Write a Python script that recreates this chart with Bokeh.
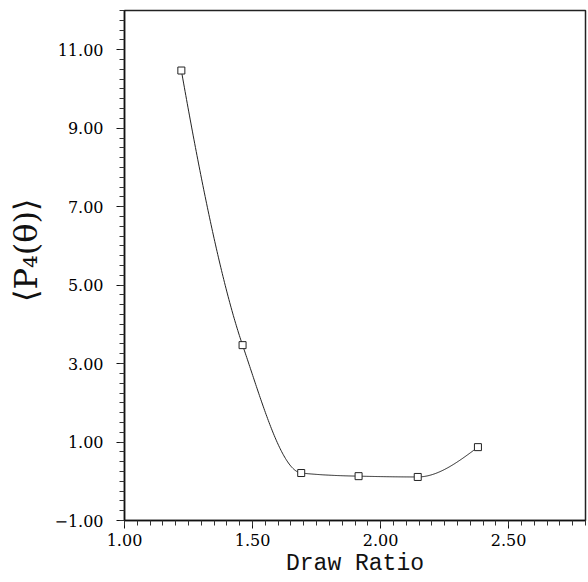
import numpy as np
from bokeh.plotting import figure
from bokeh.models import Range1d, FixedTicker
from bokeh.embed import file_html
from bokeh.resources import INLINE

# Data
draw_ratio = [1.222, 1.461, 1.690, 1.914, 2.145, 2.380]
p4 = [10.47, 3.47, 0.21, 0.13, 0.11, 0.87]

x_major = [1.0, 1.5, 2.0, 2.5]
x_labels = ["1.00", "1.50", "2.00", "2.50"]
y_major = [-1.0, 1.0, 3.0, 5.0, 7.0, 9.0, 11.0]
y_labels = ["\u22121.00", "1.00", "3.00", "5.00", "7.00", "9.00", "11.00"]


def pchip_curve(x, y, n=400):
    x = np.asarray(x, float)
    y = np.asarray(y, float)
    m = len(x)
    h = np.diff(x)
    d = np.diff(y) / h
    s = np.zeros(m)
    for i in range(1, m - 1):
        if d[i - 1] * d[i] > 0:
            w1 = 2 * h[i] + h[i - 1]
            w2 = h[i] + 2 * h[i - 1]
            s[i] = (w1 + w2) / (w1 / d[i - 1] + w2 / d[i])
        else:
            s[i] = 0.0

    def end_slope(h0, h1, d0, d1):
        v = ((2 * h0 + h1) * d0 - h0 * d1) / (h0 + h1)
        if np.sign(v) != np.sign(d0):
            v = 0.0
        elif np.sign(d0) != np.sign(d1) and abs(v) > abs(3 * d0):
            v = 3 * d0
        return v

    s[0] = end_slope(h[0], h[1], d[0], d[1])
    s[-1] = end_slope(h[-1], h[-2], d[-1], d[-2])
    xs = np.linspace(x[0], x[-1], n)
    ys = np.empty_like(xs)
    for k, xv in enumerate(xs):
        i = int(np.clip(np.searchsorted(x, xv) - 1, 0, m - 2))
        t = (xv - x[i]) / h[i]
        h00 = 2 * t ** 3 - 3 * t ** 2 + 1
        h10 = t ** 3 - 2 * t ** 2 + t
        h01 = -2 * t ** 3 + 3 * t ** 2
        h11 = t ** 3 - t ** 2
        ys[k] = h00 * y[i] + h10 * h[i] * s[i] + h01 * y[i + 1] + h11 * h[i] * s[i + 1]
    return xs, ys


xs, ys = pchip_curve(draw_ratio, p4)

p = figure(frame_width=461, frame_height=510,
           x_range=Range1d(1.0, 2.8), y_range=Range1d(-1.0, 12.0),
           output_backend="svg", toolbar_location=None,
           min_border_left=124, min_border_right=3,
           min_border_top=10, min_border_bottom=60)

p.background_fill_color = "white"
p.border_fill_color = "white"
p.outline_line_color = "#222222"
p.outline_line_width = 1.5
p.xgrid.visible = False
p.ygrid.visible = False

p.line(xs, ys, line_color="#222222", line_width=1)
p.scatter(draw_ratio, p4, marker="square", size=7, fill_color="white",
          line_color="#222222", line_width=1)

p.xaxis.ticker = FixedTicker(ticks=x_major,
                             minor_ticks=list(np.round(np.arange(1.0, 2.8001, 0.05), 3)))
p.yaxis.ticker = FixedTicker(ticks=y_major,
                             minor_ticks=list(np.round(np.arange(-1.0, 12.001, 0.25), 3)))
p.xaxis.major_label_overrides = dict(zip(x_major, x_labels))
p.yaxis.major_label_overrides = dict(zip(y_major, y_labels))

for ax in (p.xaxis[0], p.yaxis[0]):
    ax.axis_line_color = "#111111"
    ax.axis_line_width = 1.5
    ax.major_tick_line_color = "#111111"
    ax.minor_tick_line_color = "#333333"
    ax.major_tick_in = 0
    ax.minor_tick_in = 0
    ax.major_tick_out = 8
    ax.minor_tick_out = 5
    ax.major_label_text_font = "DejaVu Serif"
    ax.major_label_text_font_size = "16px"
    ax.major_label_text_color = "#000000"

p.xaxis.major_label_standoff = 5
p.yaxis.major_label_standoff = 13

p.xaxis.axis_label = "Draw Ratio"
p.xaxis.axis_label_text_font = "Liberation Mono"
p.xaxis.axis_label_text_font_size = "23px"
p.xaxis.axis_label_text_font_style = "normal"
p.xaxis.axis_label_text_color = "#111111"
p.xaxis.axis_label_standoff = 2

p.yaxis.axis_label = "\u00a0\u00a0\u00a0\u27e8P\u2084(\u03b8)\u27e9"
p.yaxis.axis_label_text_font = "DejaVu Serif"
p.yaxis.axis_label_text_font_size = "32px"
p.yaxis.axis_label_text_font_style = "normal"
p.yaxis.axis_label_text_color = "#111111"
p.yaxis.axis_label_standoff = 6

open("out.html", "w").write(file_html(p, INLINE))
